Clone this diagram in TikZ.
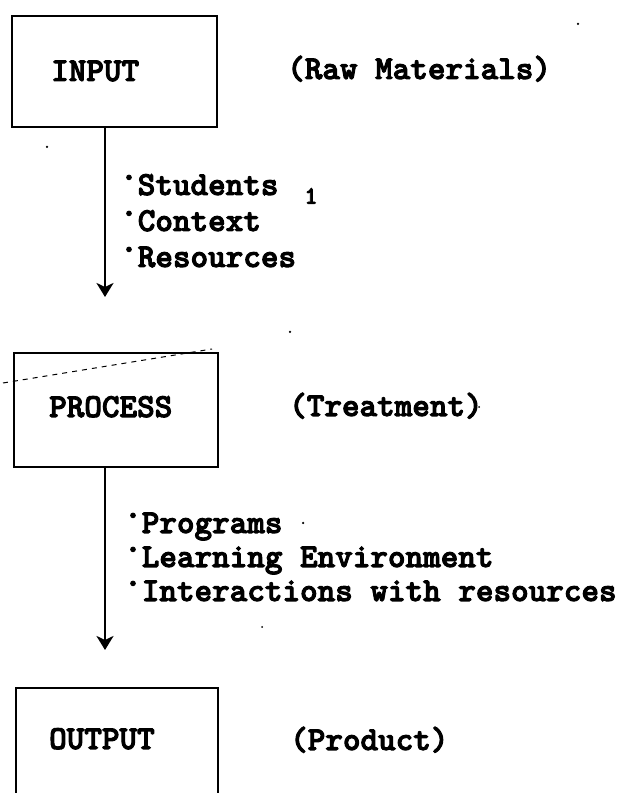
\documentclass[tikz,border=0pt]{standalone}
\usepackage{fontspec}
\newfontfamily\twfont{lmmonolt10-bold.otf}[FakeBold=3]
\usetikzlibrary{arrows.meta}
\begin{document}
\begin{tikzpicture}[x=1pt,y=1pt,
  box/.style={draw, line width=2.5pt, inner sep=0pt},
  lbl/.style={anchor=base west, inner sep=0pt, font=\fontsize{33.5}{38}\selectfont\twfont},
  flow/.style={line width=2.4pt, -{Stealth[length=14pt,width=17pt,inset=4pt]}},
  speck/.style={circle, fill, inner sep=0pt, minimum size=2.5pt},
  scan/.style={line width=1pt, dash pattern=on 5pt off 5pt}
]
\clip (0,0) rectangle (630,793);
\fill[white] (0,0) rectangle (630,793);

% boxes
\node[box, minimum width=205pt, minimum height=111pt] (in) at (114.5,721.5) {};
\node[box, minimum width=204pt, minimum height=114pt] (pr) at (116,383) {};
\node[box, minimum width=202pt, minimum height=140pt] (out) at (117,35) {};

% box labels
\node[lbl] (tin) at (51,712) {INPUT};
\node[lbl] (tpr) at (49,376) {PROCESS};
\node[lbl] (tout) at (49,44) {OUTPUT};

% side notes
\node[lbl] (raw) at (287,714) {(Raw Materials)};
\node[lbl] (treat) at (289,377) {(Treatment)};
\node[lbl] (prod) at (290,43) {(Product)};

% bullet lists
\newcommand{\bdot}{\raisebox{0.22em}{·}}
\node[lbl] (b1) at (120,598) {\bdot Students};
\node[lbl] (b2) at (120,562) {\bdot Context};
\node[lbl] (b3) at (120,526) {\bdot Resources};
\node[anchor=center, inner sep=0pt, font=\fontsize{25}{27}\selectfont\twfont] (one) at (311,597) {1};

\node[lbl] (c1) at (124,260) {\bdot Programs};
\node[lbl] (c2) at (124,226) {\bdot Learning Environment};
\node[lbl] (c3) at (124,192) {\bdot Interactions with resources};

% arrows
\coordinate (a1) at (105,496);
\coordinate (a2) at (105,143);
\draw[flow] (in.south -| a1) -- (a1);
\draw[flow] (pr.south -| a2) -- (a2);

% scan artefacts
\coordinate (d1) at (3,410);
\coordinate (d2) at (212,444);
\draw[scan] (d1) -- (d2);
\node[speck] (s1) at (578,769) {};
\node[speck] (s2) at (47,646) {};
\node[speck] (s3) at (290,461) {};
\node[speck] (s4) at (303,270) {};
\node[speck, minimum size=2pt] (s5) at (262,166) {};
\node[speck, minimum size=2pt] (s6) at (479,386) {};
\end{tikzpicture}
\end{document}
